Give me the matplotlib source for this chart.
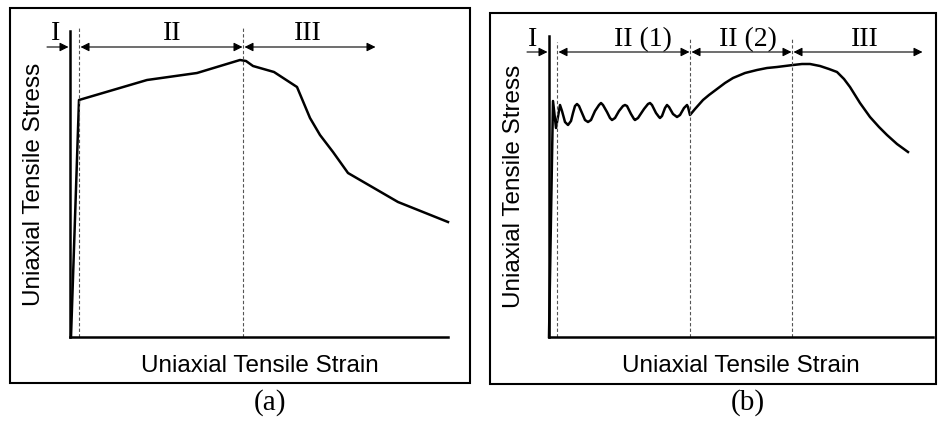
"""
Schematic uniaxial tensile stress-strain curves, panels (a) and (b)
"""

import matplotlib
matplotlib.use("Agg")
import matplotlib.pyplot as plt
from matplotlib.patches import Rectangle

W, H = 938, 421
SANS = "Liberation Sans"
SERIF = "Liberation Serif"

# ── data (arbitrary units, origin at axis corner) ──────────────────────────────
strain_a = [1, 9, 77, 127, 170, 176, 183, 204, 227, 240, 250, 263, 278, 328, 378]
stress_a = [0, 237, 257, 264, 277, 276, 271, 265, 250, 219, 202, 185, 164, 135, 115]
bounds_a = [9, 173]
stages_a = ["II", "III"]

strain_b = [0, 2, 4, 7, 11, 13, 16, 19, 22, 24, 26, 28, 30, 33, 36, 39, 42, 46, 50, 52,
            54, 58, 61, 63, 66, 70, 74, 76, 78, 82, 85, 86, 89, 95, 99, 101, 103, 107,
            110, 111, 113, 116, 118, 120, 124, 128, 131, 135, 138, 139, 141,
            146, 154, 160, 168, 176, 184, 196, 208, 218, 228, 244, 253, 261, 266, 271,
            280, 288, 295, 301, 311, 321, 330, 338, 348, 359]
stress_b = [0, 120, 236, 209, 232, 226, 215, 212, 216, 224, 231, 233, 231, 224, 217, 215,
            217, 226, 232, 234, 232, 225, 219, 217, 219, 226, 231, 232, 231, 223, 218, 217,
            219, 228, 233, 234, 232, 224, 220, 219, 221, 229, 232, 230, 223, 220, 222, 229,
            232, 230, 222,
            228, 237, 242, 248, 254, 259, 264, 267, 269, 270, 272, 273, 273, 272, 271,
            268, 265, 258, 250, 234, 220, 210, 202, 193, 185]
bounds_b = [8, 141, 243]
stages_b = ["II (1)", "II (2)", "III"]


def fx(x):
    return x / W


def fy(y):
    return 1 - y / H


fig = plt.figure(figsize=(W / 100, H / 100), dpi=100, facecolor="white")

# outer frames
for (x0, y0, x1, y1) in [(10, 8, 470, 383), (490, 13, 936, 384)]:
    fig.add_artist(Rectangle((fx(x0), fy(y1)), fx(x1 - x0), (y1 - y0) / H,
                             transform=fig.transFigure, fill=False,
                             edgecolor="black", linewidth=1.5))


def panel(ox, oy, w, h, strain, stress, bounds, dash_top, stages, arrow_y, label_y,
          stage_x, i_start, i_label_x, lw_curve=1.8):
    ax = fig.add_axes([fx(ox), fy(oy), w / W, h / H])
    ax.set_xlim(0, w)
    ax.set_ylim(0, h)
    ax.set_xticks([])
    ax.set_yticks([])
    for s in ["top", "right"]:
        ax.spines[s].set_visible(False)
    for s in ["left", "bottom"]:
        ax.spines[s].set_linewidth(1.8)
    ax.patch.set_alpha(0)

    ax.plot(strain, stress, color="black", lw=lw_curve, solid_joinstyle="round",
            clip_on=False)

    for b, t in zip(bounds, dash_top):
        ax.plot([b, b], [0, t], color="#555555", lw=0.8, ls=(0, (3, 2)), clip_on=False)

    # stage I arrow
    ax.annotate("", xy=(-1.5, arrow_y), xytext=(i_start, arrow_y),
                arrowprops=dict(arrowstyle="-|>", color="black", lw=0.8,
                                mutation_scale=13, shrinkA=0, shrinkB=0),
                annotation_clip=False)
    ax.text(i_label_x, label_y, "I", ha="center", va="center", fontsize=20,
            family=SERIF, clip_on=False)

    edges = bounds + [stage_x[-1]]
    for k, name in enumerate(stages):
        x0 = edges[k] + 1.5
        x1 = edges[k + 1] - 0.5
        ax.annotate("", xy=(x1, arrow_y), xytext=(x0, arrow_y),
                    arrowprops=dict(arrowstyle="<|-|>", color="black", lw=0.8,
                                    mutation_scale=13, shrinkA=0, shrinkB=0),
                    annotation_clip=False)
        ax.text(stage_x[k], label_y, name, ha="center", va="center", fontsize=20,
                family=SERIF, clip_on=False)
    return ax


panel(70, 337, 378, 306, strain_a, stress_a, bounds_a, [310, 310], stages_a,
      290, 304, [102, 238, 306], -23, -14)
panel(549, 337, 384, 301, strain_b, stress_b, bounds_b, [295, 299, 299], stages_b,
      285, 297, [94, 199, 316, 374], -22, -16)

# axis titles and panel letters
for cx, cy, txt in [(34, 184, "Uniaxial Tensile Stress"), (514, 186, "Uniaxial Tensile Stress")]:
    fig.text(fx(cx), fy(cy), txt, rotation=90, ha="center", va="center",
             fontsize=17.5, family=SANS)
for cx, cy, txt in [(260, 366, "Uniaxial Tensile Strain"), (741, 366, "Uniaxial Tensile Strain")]:
    fig.text(fx(cx), fy(cy), txt, ha="center", va="center", fontsize=17.5, family=SANS)
for cx, cy, txt in [(270, 403, "(a)"), (748, 403, "(b)")]:
    fig.text(fx(cx), fy(cy), txt, ha="center", va="center", fontsize=21, family=SERIF)

plt.savefig("out.png", dpi=100, facecolor="white")
plt.close()
